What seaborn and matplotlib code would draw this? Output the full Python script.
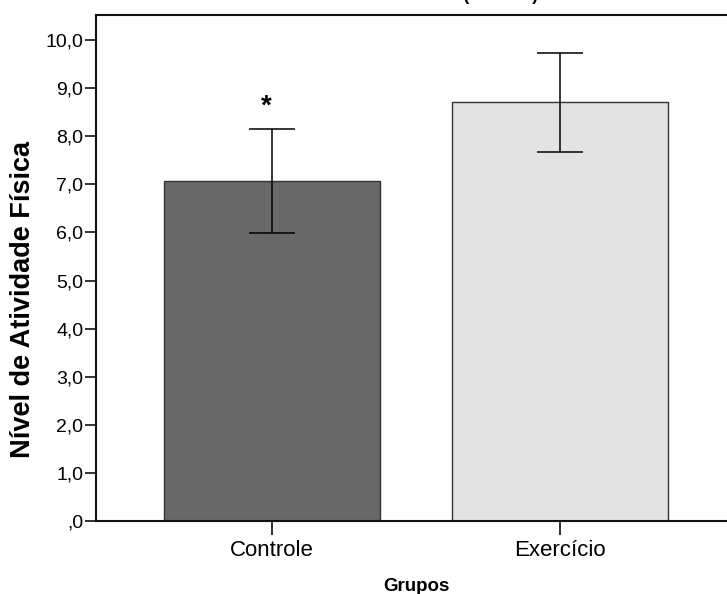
import matplotlib
matplotlib.use("Agg")
import matplotlib.pyplot as plt
import seaborn as sns
import pandas as pd
from matplotlib.ticker import FuncFormatter

grupos = ["Controle", "Exercício"]
medias = [7.07, 8.71]
erros = [1.08, 1.03]
cores = ["#686868", "#e3e3e3"]
yticks = [0, 1, 2, 3, 4, 5, 6, 7, 8, 9, 10]

sns.set_style("white")
plt.rcParams["font.family"] = ["Liberation Sans", "DejaVu Sans"]
plt.rcParams["text.color"] = "black"
plt.rcParams["axes.labelcolor"] = "black"
plt.rcParams["xtick.color"] = "black"
plt.rcParams["ytick.color"] = "black"

df = pd.DataFrame({"Grupos": grupos, "Nivel": medias})

fig = plt.figure(figsize=(7.27, 5.94), dpi=100)
ax = fig.add_axes([96 / 727, 1 - 521 / 594, 640 / 727, (521 - 15) / 594])

sns.barplot(data=df, x="Grupos", y="Nivel", hue="Grupos", palette=cores,
            width=0.753, edgecolor="#333333", linewidth=1.0, legend=False,
            errorbar=None, ax=ax)
ax.errorbar(range(len(grupos)), medias, yerr=erros, fmt="none", ecolor="black",
            elinewidth=1.1, capsize=16.6, capthick=1.1, zorder=5)

ax.text(-0.02, 8.62, "*", ha="center", va="center", fontsize=20, fontweight="bold",
        color="black")

ax.set_xlim(-0.611, 1.611)
ax.set_ylim(0, 10.52)
ax.set_yticks(yticks)
ax.yaxis.set_major_formatter(FuncFormatter(lambda v, p: ",0" if v == 0 else f"{v:.1f}".replace(".", ",")))

ax.set_xlabel("Grupos", fontsize=13.5, fontweight="bold", labelpad=12)
ax.set_ylabel("Nível de Atividade Física", fontsize=19.5, fontweight="bold")
ax.yaxis.set_label_coords(-0.094, 0.437)

ax.tick_params(axis="y", which="major", direction="out", length=8, width=1.2,
               labelsize=14, left=True, pad=1, color="#111111", labelcolor="black")
ax.tick_params(axis="x", which="major", direction="out", length=10, width=1.2,
               labelsize=16, bottom=True, pad=4, color="#111111", labelcolor="black")

for s in ["top", "bottom", "left", "right"]:
    ax.spines[s].set_color("#111111")
    ax.spines[s].set_linewidth(1.5)

fig.text(538 / 727, 1.0, "Nível de Atividade Física (Baecke)", ha="right", va="baseline",
         fontsize=13, fontweight="bold", color="black")

fig.savefig("out.png", dpi=100)
